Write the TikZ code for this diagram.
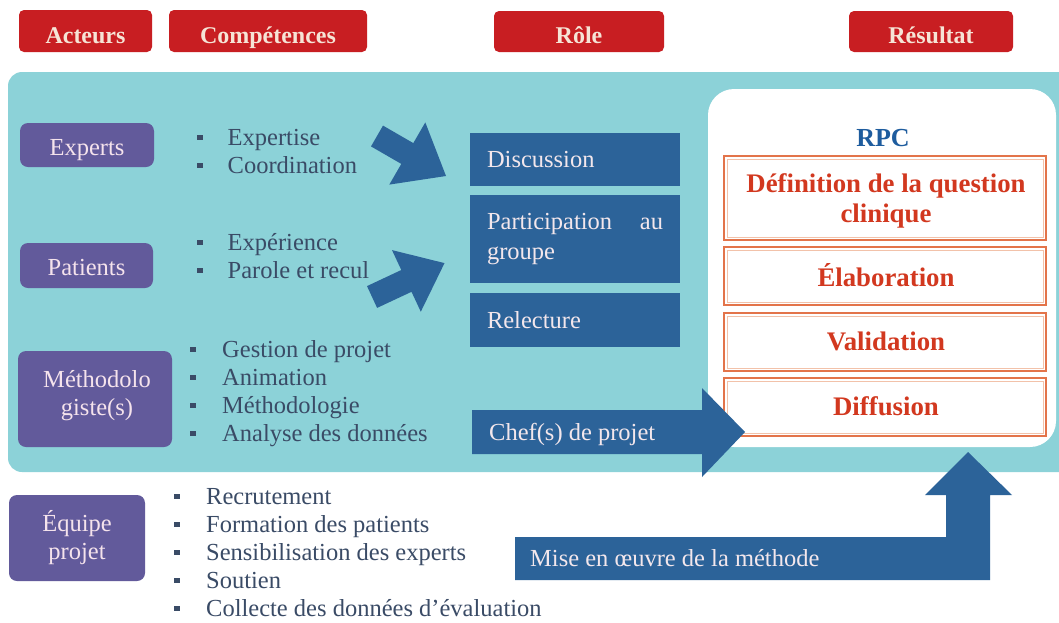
\documentclass[tikz,border=0pt]{standalone}
\usepackage{fontspec}
\setmainfont{Liberation Serif}
\definecolor{hdrred}{HTML}{C81E22}
\definecolor{hdrtext}{HTML}{F6E4D6}
\definecolor{tealbg}{HTML}{8CD2D8}
\definecolor{purplebox}{HTML}{625A9B}
\definecolor{purpletext}{HTML}{F5E3EC}
\definecolor{bluebox}{HTML}{2C6399}
\definecolor{bluetext}{HTML}{F3E7EC}
\definecolor{redtext}{HTML}{D2381F}
\definecolor{orangeline}{HTML}{E3744A}
\definecolor{orangelight}{HTML}{F2C2AA}
\definecolor{rpcblue}{HTML}{1E5C9E}
\definecolor{listtext}{HTML}{3A4B66}
\newcommand{\bsq}{\raisebox{5pt}{\rule{5.5pt}{5.5pt}}}
\begin{document}
\begin{tikzpicture}[x=1pt,y=-1pt,
  hdr/.style={fill=hdrred, rounded corners=5pt, text=hdrtext, font=\bfseries\fontsize{24}{27}\selectfont, inner sep=0pt, text height=26pt, text depth=2pt},
  actor/.style={fill=purplebox, rounded corners=8pt, text=purpletext, align=center, font=\fontsize{24.5}{28}\selectfont, inner sep=0pt},
  role/.style={fill=bluebox, text=bluetext, align=left, text width=176pt, inner xsep=17pt, inner ysep=0pt, font=\fontsize{24.5}{30}\selectfont, minimum width=210pt},
  item/.style={anchor=base west, inner sep=0pt, text=listtext, font=\fontsize{24.5}{28}\selectfont},
  step box/.style={draw=orangeline, line width=1.6pt, fill=white, minimum width=322pt, inner sep=0pt},
  steptext/.style={text=redtext, font=\bfseries\fontsize{26.8}{30}\selectfont, align=center},
  bigarrow/.style={fill=bluebox},
  arrowtext/.style={text=bluetext, font=\fontsize{24.5}{28}\selectfont, anchor=west, inner sep=0pt}]
\useasboundingbox (0,0) rectangle (1059,622);
\clip (0,0) rectangle (1059,622);
\fill[white] (0,0) rectangle (1059,622);

% headers
\node[hdr, minimum width=133pt, minimum height=42pt] (hActeurs) at (85.5,31) {Acteurs};
\node[hdr, minimum width=198pt, minimum height=42pt] (hComp) at (268,31) {Compétences};
\node[hdr, minimum width=170pt, minimum height=41pt] (hRole) at (579,31.5) {Rôle};
\node[hdr, minimum width=164pt, minimum height=41pt] (hRes) at (931,31.5) {Résultat};

% teal background
\fill[tealbg, rounded corners=14pt] (8,72) rectangle (1090,472);

% white result box
\fill[white, rounded corners=26pt] (708,89) rectangle (1056,447);
\node[text=rpcblue, font=\bfseries\fontsize{26}{30}\selectfont, inner sep=0pt] (rpc) at (883,138) {RPC};

% steps
\node[step box, minimum height=84pt] (sDef) at (885,198) {};
\node[step box, minimum height=58pt] (sElab) at (885,276) {};
\node[step box, minimum height=58pt] (sVal) at (885,342) {};
\node[step box, minimum height=58pt] (sDiff) at (885,407) {};
\foreach \b in {sDef,sElab,sVal,sDiff}{
  \draw[orangelight, line width=0.6pt] ([xshift=4pt,yshift=-4pt]\b.north west) rectangle ([xshift=-4pt,yshift=4pt]\b.south east);
}
\node[steptext] (tDef) at (886,201) {Définition de la question\\clinique};
\node[steptext] (tElab) at (886,275) {Élaboration};
\node[steptext] (tVal) at (886,341) {Validation};
\node[steptext] (tDiff) at (886,406) {Diffusion};

% actors
\node[actor, minimum width=134pt, minimum height=44pt, text height=20pt, text depth=0pt] (aExp) at (87,145) {Experts};
\node[actor, minimum width=133pt, minimum height=45pt, text height=20pt, text depth=0pt] (aPat) at (86.5,265.5) {Patients};
\node[actor, minimum width=154pt, minimum height=96pt] (aMeth) at (95,399) {};
\node[text=purpletext, align=center, font=\fontsize{24.5}{28}\selectfont, inner sep=0pt] (aMethText) at (97,395.5) {Méthodolo\\giste(s)};
\node[actor, minimum width=136pt, minimum height=86pt] (aEq) at (77,538) {Équipe\\projet};

% competence lists
\node[item] (c1) at (197,145) {\bsq\hspace{25pt}Expertise};
\node[item] (c2) at (197,173) {\bsq\hspace{25pt}Coordination};
\node[item] (c3) at (197,250) {\bsq\hspace{25pt}Expérience};
\node[item] (c4) at (197,278) {\bsq\hspace{25pt}Parole et recul};
\node[item] (c5) at (190,357) {\bsq\hspace{26.5pt}Gestion de projet};
\node[item] (c6) at (190,385) {\bsq\hspace{26.5pt}Animation};
\node[item] (c7) at (190,413) {\bsq\hspace{26.5pt}Méthodologie};
\node[item] (c8) at (190,441) {\bsq\hspace{26.5pt}Analyse des données};
\node[item] (c9) at (174,504) {\bsq\hspace{26.5pt}Recrutement};
\node[item] (c10) at (174,532) {\bsq\hspace{26.5pt}Formation des patients};
\node[item] (c11) at (174,560) {\bsq\hspace{26.5pt}Sensibilisation des experts};
\node[item] (c12) at (174,588) {\bsq\hspace{26.5pt}Soutien};
\node[item] (c13) at (174,616) {\bsq\hspace{26.5pt}Collecte des données d’évaluation};

% roles
\node[role, minimum height=53pt] (rDisc) at (575,159.5) {Discussion};
\node[role, minimum height=88pt] (rPart) at (575,239) {Participation\hfill au\\groupe};
\node[role, minimum height=54pt] (rRel) at (575,320) {Relecture};

% diagonal arrows
\fill[bigarrow] (371,146.4) -- (383,125.6) -- (413.3,143.1) -- (425.3,122.4) -- (446,176) -- (389.3,184.6) -- (401.3,163.9) -- cycle;
\fill[bigarrow] (367,286.1) -- (377.1,307.9) -- (411.5,291.8) -- (420.8,311.7) -- (444.5,263.1) -- (392,250.1) -- (401.3,270.0) -- cycle;

% chef(s) de projet arrow
\fill[bigarrow] (472,410) -- (702,410) -- (702,388) -- (745,432) -- (702,477) -- (702,454) -- (472,454) -- cycle;
\node[arrowtext] (tChef) at (489,434) {Chef(s) de projet};

% mise en oeuvre arrow
\fill[bigarrow] (515,537) -- (946,537) -- (946,495) -- (925,495) -- (968,452) -- (1012,495) -- (990,495) -- (990,580) -- (515,580) -- cycle;
\node[arrowtext] (tMise) at (530,558) {Mise en œuvre de la méthode};
\end{tikzpicture}
\end{document}
